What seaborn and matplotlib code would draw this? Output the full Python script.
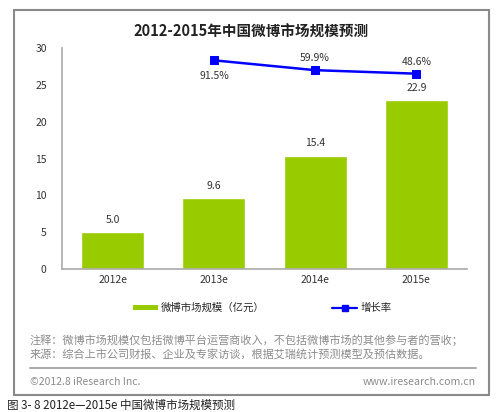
import numpy as np
import pandas as pd
import seaborn as sns
import matplotlib.pyplot as plt
from matplotlib.patches import Rectangle, Patch
from matplotlib.lines import Line2D

# chart data
years = ['2012e', '2013e', '2014e', '2015e']
market_size = [5.0, 9.6, 15.4, 22.9]
growth_years = ['2013e', '2014e', '2015e']
growth_rate = [91.5, 59.9, 48.6]

title = '2012-2015年中国微博市场规模预测'
bar_label = '微博市场规模（亿元）'
line_label = '增长率'
note_1 = '注释：微博市场规模仅包括微博平台运营商收入，不包括微博市场的其他参与者的营收；'
note_2 = '来源：综合上市公司财报、企业及专家访谈，根据艾瑞统计预测模型及预估数据。'
footer_left = '©2012.8 iResearch Inc.'
footer_right = 'www.iresearch.com.cn'
caption = '图 3- 8 2012e—2015e 中国微博市场规模预测'

sns.set_style('white')
plt.rcParams['font.family'] = ['Noto Sans CJK SC', 'DejaVu Sans']

green = '#99CC00'
blue = '#0000FF'
grey_txt = '#8C8C8C'

df = pd.DataFrame({'year': years, 'size': market_size})

fig = plt.figure(figsize=(5, 4.12), dpi=100)
ax = fig.add_axes([0.124, 0.347, 0.81, 0.5365])

sns.barplot(data=df, x='year', y='size', color=green, width=0.62,
            saturation=1, ax=ax)
ax.set_ylim(0, 30)
ax.set_xlim(-0.5, 3.5)
ax.set_yticks(range(0, 31, 5))
ax.set_xlabel('')
ax.set_ylabel('')
ax.tick_params(axis='y', length=0, pad=11, labelsize=7.5, labelcolor='#333333')
ax.tick_params(axis='x', length=0, pad=4, labelsize=7.5, labelcolor='#333333')
for s in ['top', 'right']:
    ax.spines[s].set_visible(False)
for s in ['left', 'bottom']:
    ax.spines[s].set_color('#AAAAAA')
    ax.spines[s].set_linewidth(1.2)

for i, v in enumerate(market_size):
    ax.text(i, v + 1.0, f'{v:.1f}', ha='center', va='bottom', fontsize=7.5,
            color='#333333')

# growth line on a hidden secondary axis
ax2 = ax.twinx()
gx = [years.index(y) for y in growth_years]
gdf = pd.DataFrame({'x': gx, 'g': growth_rate})
sns.lineplot(data=gdf, x='x', y='g', color=blue, linewidth=1.8, marker='s',
             markersize=6, markeredgecolor=blue, ax=ax2)
ax2.set_ylim(-578, 131)
ax2.set_xlim(-0.5, 3.5)
ax2.set_yticks([])
ax2.set_ylabel('')
ax2.set_xlabel('')
for s in ax2.spines.values():
    s.set_visible(False)
offsets = [-51, 40, 36]
for x, g, off in zip(gx, growth_rate, offsets):
    ax2.text(x, g + off, f'{g}%', ha='center', va='center', fontsize=7.5,
             color='#333333')

# outer frame
fig.patches.append(Rectangle((14 / 500, 1 - 395 / 412), 475 / 500, 385 / 412,
                             transform=fig.transFigure, fill=False,
                             edgecolor='#8A8A8A', linewidth=1.5))

fig.text(251 / 500, 1 - 32 / 412, title, ha='center', va='center',
         fontsize=10.5, fontweight='bold', color='#222222')

handles = [Patch(facecolor=green, edgecolor='none'),
           Line2D([0], [0], color=blue, linewidth=1.6, marker='s', markersize=4)]
fig.legend(handles, [bar_label, line_label], loc='center',
           bbox_to_anchor=(262 / 500, 1 - 308 / 412), ncol=2, frameon=False,
           fontsize=7.5, handlelength=2.4, handleheight=0.4,
           columnspacing=6.5, handletextpad=0.3)

fig.text(30 / 500, 1 - 340 / 412, note_1, ha='left', va='center',
         fontsize=8, color=grey_txt)
fig.text(30 / 500, 1 - 354 / 412, note_2, ha='left', va='center',
         fontsize=8, color=grey_txt)
fig.add_artist(Line2D([30 / 500, 476 / 500], [1 - 368 / 412, 1 - 368 / 412],
                      transform=fig.transFigure, color='#999999', linewidth=1.2))
fig.text(30 / 500, 1 - 382 / 412, footer_left, ha='left', va='center',
         fontsize=7.5, color=grey_txt)
fig.text(476 / 500, 1 - 382 / 412, footer_right, ha='right', va='center',
         fontsize=7.6, color=grey_txt)
fig.text(7 / 500, 1 - 405 / 412, caption, ha='left', va='center',
         fontsize=8.3, style='italic', color='#222222')

fig.savefig('out.png', dpi=100)
